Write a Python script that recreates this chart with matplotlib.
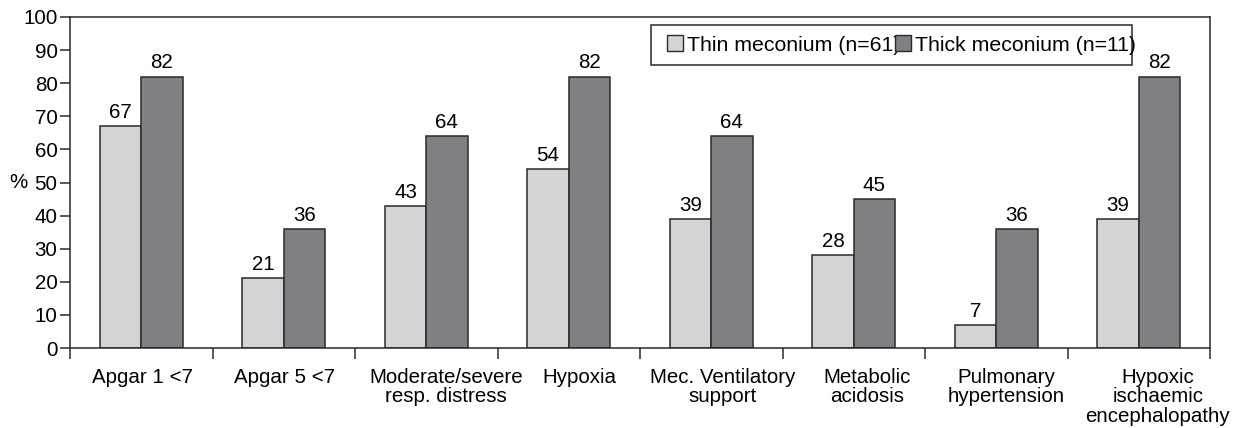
import matplotlib
matplotlib.use("Agg")
import matplotlib.pyplot as plt
from matplotlib.patches import Rectangle
import matplotlib.transforms as mtransforms
import numpy as np

categories = ["Apgar 1 <7", "Apgar 5 <7", "Moderate/severe\nresp. distress", "Hypoxia",
              "Mec. Ventilatory\nsupport", "Metabolic\nacidosis", "Pulmonary\nhypertension",
              "Hypoxic\nischaemic\nencephalopathy"]
thin = [67, 21, 43, 54, 39, 28, 7, 39]
thick = [82, 36, 64, 82, 64, 45, 36, 82]
series_names = ["Thin meconium (n=61)", "Thick meconium (n=11)"]
yticks = list(range(0, 101, 10))

# style: horizontal nudges (pixels) of category labels as in the reference
label_shift_px = [1, 1, 20, 11, 11, 13, 10, 19]

plt.rcParams['font.family'] = ['Liberation Sans', 'DejaVu Sans']
FS = 14.8
plt.rcParams['font.size'] = FS

W, H = 1236, 428
fig = plt.figure(figsize=(W/100, H/100), dpi=100)
ax = fig.add_axes([70/W, 1-348/H, 1140/W, 331/H])

x = np.arange(len(categories))
w = 0.29
ec = '#2a2a2a'
b1 = ax.bar(x - w/2, thin, w, color='#d3d4d6', edgecolor=ec, linewidth=1.1, label=series_names[0])
b2 = ax.bar(x + w/2, thick, w, color='#808084', edgecolor=ec, linewidth=1.1, label=series_names[1])
ax.bar_label(b1, padding=3, fontsize=FS)
ax.bar_label(b2, padding=3, fontsize=FS)

ax.set_xlim(-0.5, len(categories) - 0.5)
ax.set_ylim(0, 100)
ax.set_yticks(yticks)
ax.set_xticks(np.arange(-0.5, len(categories)))
ax.set_xticklabels([])
base = mtransforms.blended_transform_factory(ax.transData, ax.transAxes)
for xi, lab, dx in zip(x, categories, label_shift_px):
    tr = base + mtransforms.ScaledTranslation(dx/100, -20/100, fig.dpi_scale_trans)
    ax.text(xi, 0, lab, transform=tr, ha='center', va='top', fontsize=FS,
            linespacing=1.02, multialignment='center', clip_on=False)
ax.tick_params(axis='x', which='major', length=8, direction='out', width=1.1, color=ec)
ax.tick_params(axis='y', length=7, direction='out', width=1.1, pad=2, labelsize=FS, color=ec)
for s in ax.spines.values():
    s.set_linewidth(1.1)
    s.set_color(ec)
ax.set_ylabel('%', rotation=0, fontsize=FS, va='center', ha='center')
ax.yaxis.set_label_coords(-0.045, 0.5)

LFS = 15.3
handles = [Rectangle((0, 0), 1, 1, facecolor='#d3d4d6', edgecolor=ec, linewidth=1),
           Rectangle((0, 0), 1, 1, facecolor='#808084', edgecolor=ec, linewidth=1)]
leg = fig.legend(handles, series_names, ncol=2, loc='center left',
                 bbox_to_anchor=(667/W, 1-45/H), frameon=False,
                 handlelength=0.75, handleheight=0.75, handletextpad=0.19,
                 columnspacing=-0.25, borderpad=0, borderaxespad=0, fontsize=LFS)
fig.add_artist(Rectangle((651/W, 1-65/H), (1132-651)/W, 40/H, transform=fig.transFigure,
                         facecolor='none', edgecolor=ec, linewidth=1.1, zorder=5))

fig.savefig("out.png", dpi=100)
